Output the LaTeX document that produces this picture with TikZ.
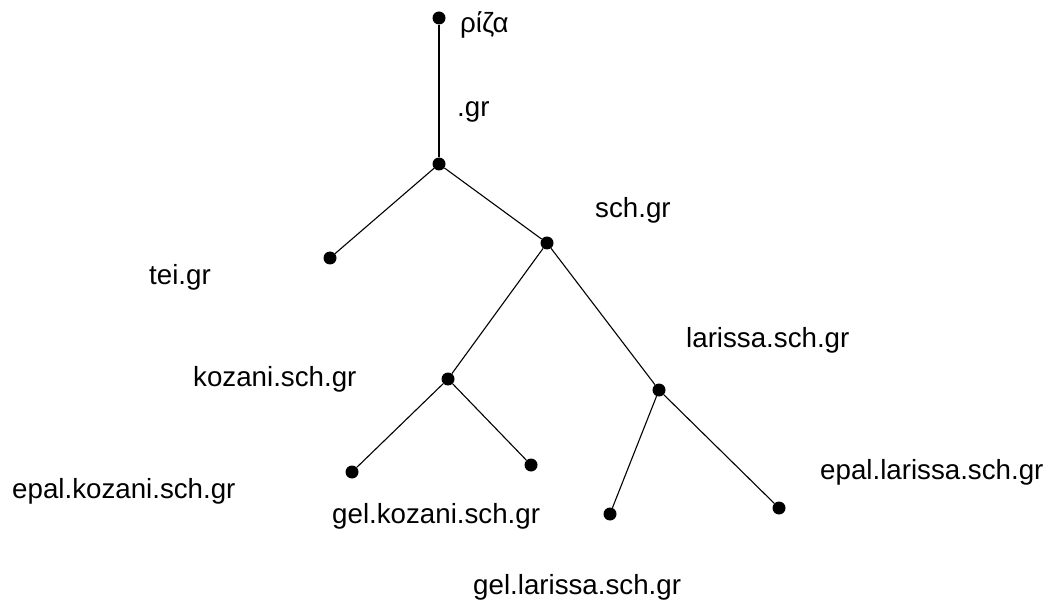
\documentclass[tikz,border=0pt]{standalone}
\usepackage{fontspec}
\setmainfont{Liberation Sans}
\begin{document}
\begin{tikzpicture}[x=1bp,y=-1bp,
  dot/.style={circle,fill=black,inner sep=0pt,minimum size=13bp},
  lbl/.style={anchor=base west,inner sep=0pt,font=\fontsize{27.7bp}{30bp}\selectfont},
  edge/.style={draw=black,line width=1.1bp}]
\useasboundingbox (0,0) rectangle (1051,601);
% tree nodes
\node[dot] (root) at (439,18) {};
\node[dot] (gr) at (439,164) {};
\node[dot] (tei) at (330,258) {};
\node[dot] (sch) at (547,243) {};
\node[dot] (koz) at (448,379) {};
\node[dot] (lar) at (659,390) {};
\node[dot] (epk) at (352,472) {};
\node[dot] (gek) at (531,465) {};
\node[dot] (gel) at (610,514) {};
\node[dot] (epl) at (779,508) {};
% connectors
\draw[edge] (root) -- (gr);
\draw[edge] (gr) -- (tei);
\draw[edge] (gr) -- (sch);
\draw[edge] (sch) -- (koz);
\draw[edge] (sch) -- (lar);
\draw[edge] (koz) -- (epk);
\draw[edge] (koz) -- (gek);
\draw[edge] (lar) -- (gel);
\draw[edge] (lar) -- (epl);
% labels
\node[lbl] (lroot) at (460,33) {ρίζα};
\node[lbl] (lgr) at (457,117) {.gr};
\node[lbl] (lsch) at (595,218) {sch.gr};
\node[lbl] (ltei) at (149,285) {tei.gr};
\node[lbl] (llar) at (686,347) {larissa.sch.gr};
\node[lbl] (lkoz) at (193,386) {kozani.sch.gr};
\node[lbl] (lepk) at (12,498) {epal.kozani.sch.gr};
\node[lbl] (lgek) at (332,523) {gel.kozani.sch.gr};
\node[lbl] (lepl) at (820,479) {epal.larissa.sch.gr};
\node[lbl] (lgel) at (473,594) {gel.larissa.sch.gr};
\end{tikzpicture}
\end{document}
